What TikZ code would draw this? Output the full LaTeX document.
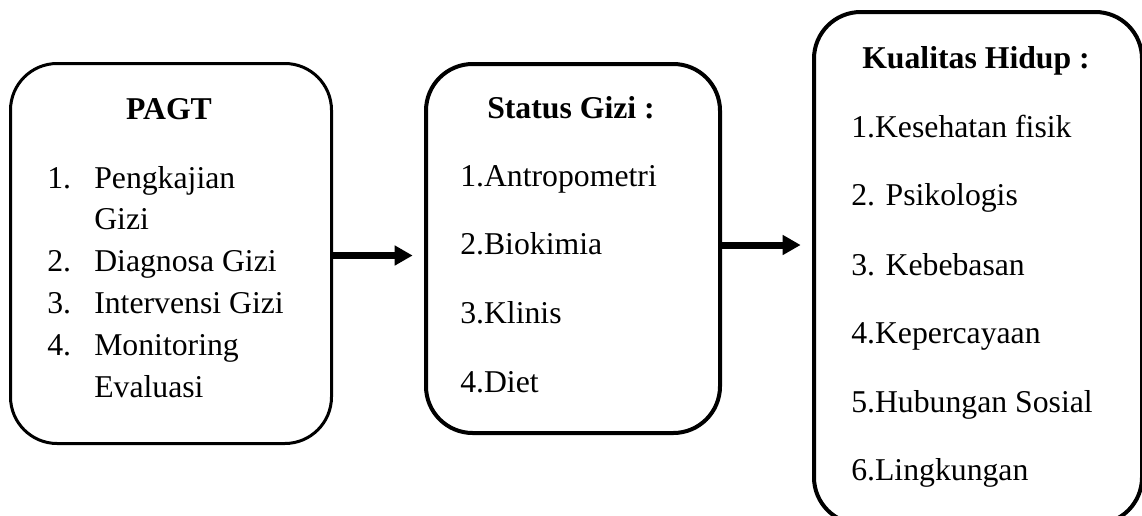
\documentclass[tikz,border=0pt]{standalone}
\usepackage{fontspec}
\setmainfont{Liberation Serif}
\usetikzlibrary{arrows.meta}
\begin{document}
\begin{tikzpicture}[x=0.75pt,y=-0.75pt,
  box/.style={draw, rounded corners=35pt, inner sep=0pt, anchor=north west},
  txt/.style={inner sep=0pt, anchor=base west, font=\fontsize{23.8}{28}\selectfont},
  ttl/.style={inner sep=0pt, anchor=base, font=\fontsize{23.8}{28}\selectfont\bfseries},
  arr/.style={line width=5.25pt, shorten >=8.5pt, -{Triangle[length=13.5pt,width=14.25pt]}}]
\clip (0,0) rectangle (1142,515);
% boxes
\node[box, line width=2.25pt, minimum width=240.75pt, minimum height=285pt] (b1) at (9,62) {};
\node[box, line width=3pt, minimum width=220.5pt, minimum height=276.75pt] (b2) at (424,62) {};
\node[box, line width=3pt, minimum width=246pt, minimum height=384pt] (b3) at (812,10) {};
% arrows
\coordinate (a1) at (0,255.5);
\coordinate (a2) at (0,245);
\draw[arr] (b1.east |- a1) -- (b2.west |- a1);
\draw[arr] (b2.east |- a2) -- (b3.west |- a2);
% box 1 text
\node[ttl] (t1) at (169,119) {PAGT};
\node[txt] (n11) at (47,188) {1.};
\node[txt] (l11) at (94,188) {Pengkajian};
\node[txt] (l12) at (94,229) {Gizi};
\node[txt] (n12) at (47,271) {2.};
\node[txt] (l13) at (94,271) {Diagnosa Gizi};
\node[txt] (n13) at (47,313) {3.};
\node[txt] (l14) at (94,313) {Intervensi Gizi};
\node[txt] (n14) at (47,355) {4.};
\node[txt] (l15) at (94,355) {Monitoring};
\node[txt] (l16) at (94,397) {Evaluasi};
% box 2 text
\node[ttl] (t2) at (571,118) {Status Gizi :};
\node[txt] (l21) at (460,186) {1.Antropometri};
\node[txt] (l22) at (460,254) {2.Biokimia};
\node[txt] (l23) at (460,323) {3.Klinis};
\node[txt] (l24) at (460,392) {4.Diet};
% box 3 text
\node[ttl] (t3) at (976,68) {Kualitas Hidup :};
\node[txt] (l31) at (851,137) {1.Kesehatan fisik};
\node[txt] (l32) at (851,205) {2. Psikologis};
\node[txt] (l33) at (851,275) {3. Kebebasan};
\node[txt] (l34) at (851,343) {4.Kepercayaan};
\node[txt] (l35) at (851,412) {5.Hubungan Sosial};
\node[txt] (l36) at (851,480) {6.Lingkungan};
\end{tikzpicture}
\end{document}
